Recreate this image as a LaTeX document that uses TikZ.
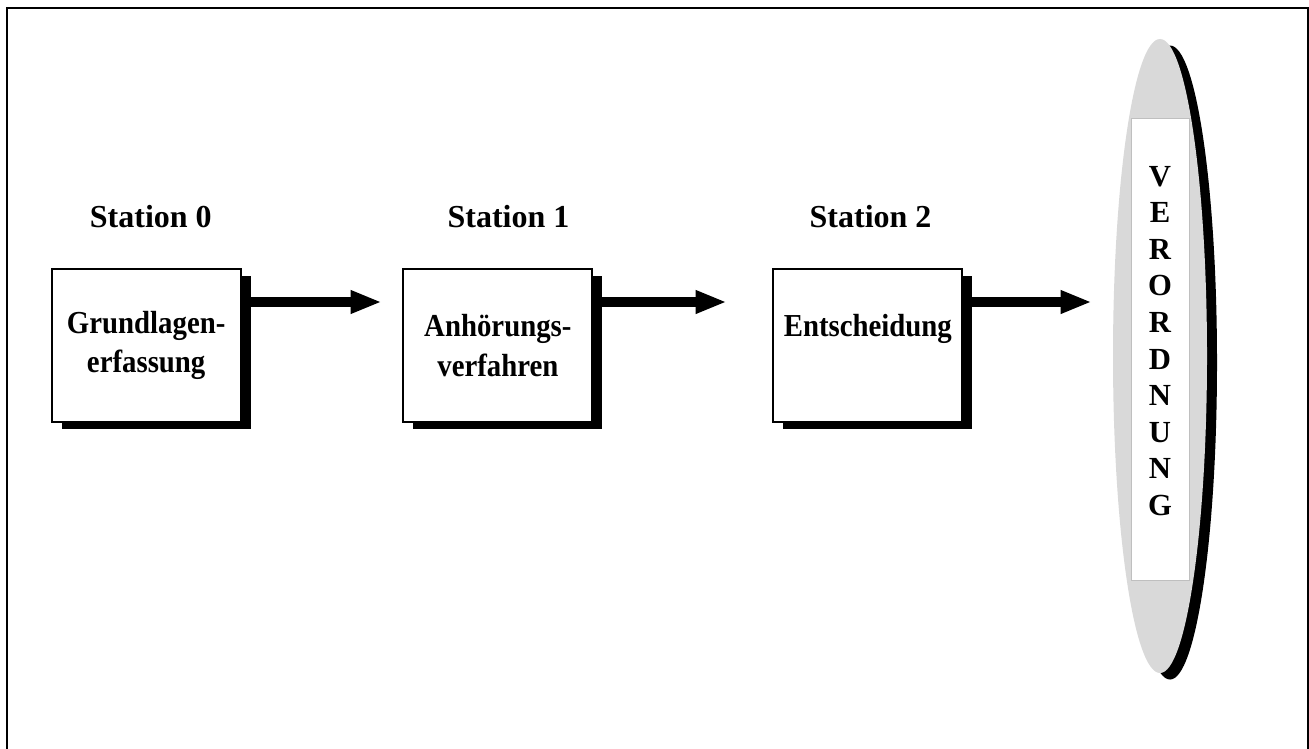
\documentclass[tikz,border=0pt]{standalone}
\usepackage{fontspec}
\setmainfont{Liberation Serif}
\usepackage{tikz}
\usetikzlibrary{arrows.meta, positioning, shapes.geometric, shadows}
\newcommand{\cond}[1]{\scalebox{0.9}[1]{#1}}

\begin{document}
\begin{tikzpicture}[x=0.75pt, y=-0.75pt,
  box/.style={draw, line width=1.5pt, fill=white, minimum width=141.75pt, minimum height=114.75pt,
    inner sep=0pt, align=center, font=\fontsize{24}{29.5}\selectfont\bfseries,
    drop shadow={shadow xshift=7.5pt, shadow yshift=-5.25pt, fill=black, opacity=1}},
  station/.style={inner sep=0pt, font=\fontsize{24}{28}\selectfont\bfseries},
  flow/.style={line width=7.9pt, -{Triangle[length=23.25pt, width=16.1pt]}}]
\useasboundingbox (0,0) rectangle (1309,749);
\draw[line width=1.5pt] (7,749) |- (1308,8) -- (1308,749);

\node (b0) [box] at (146.2,345.4) {\cond{Grundlagen-}\\\cond{erfassung}};
\node (b1) [box, right=120.5pt of b0] {\cond{Anhörungs-}\\\cond{verfahren}};
\node (b2) [box, right=134.25pt of b1] {\cond{Entscheidung}\\\mbox{}};

\node (s0) [station, above=29.5pt of b0, xshift=3.45pt] {Station 0};
\node (s1) [station, above=29.5pt of b1, xshift=8pt] {Station 1};
\node (s2) [station, above=29.5pt of b2, xshift=2pt] {Station 2};

\node (vo) [ellipse, fill=black!15, minimum width=70.5pt, minimum height=475.5pt, inner sep=0pt,
  drop shadow={shadow xshift=7.5pt, shadow yshift=-4.9pt, fill=black, opacity=1}] at (1160,356) {};
\node (vr) [draw=black!25, line width=0.5pt, fill=white, minimum width=43.5pt, minimum height=346.5pt,
  inner sep=0pt] at (1160,349) {};
\node (vt) [align=center, inner sep=0pt, font=\fontsize{23}{27.45}\selectfont\bfseries] at (1160,341)
  {V\\E\\R\\O\\R\\D\\N\\U\\N\\G};

\coordinate (t0) at (381.7,302);
\coordinate (t1) at (726.7,302);
\coordinate (t2) at (1091.7,302);
\draw[flow] (b0.east |- t0) -- (t0);
\draw[flow] (b1.east |- t1) -- (t1);
\draw[flow] (b2.east |- t2) -- (t2);
\end{tikzpicture}
\end{document}
